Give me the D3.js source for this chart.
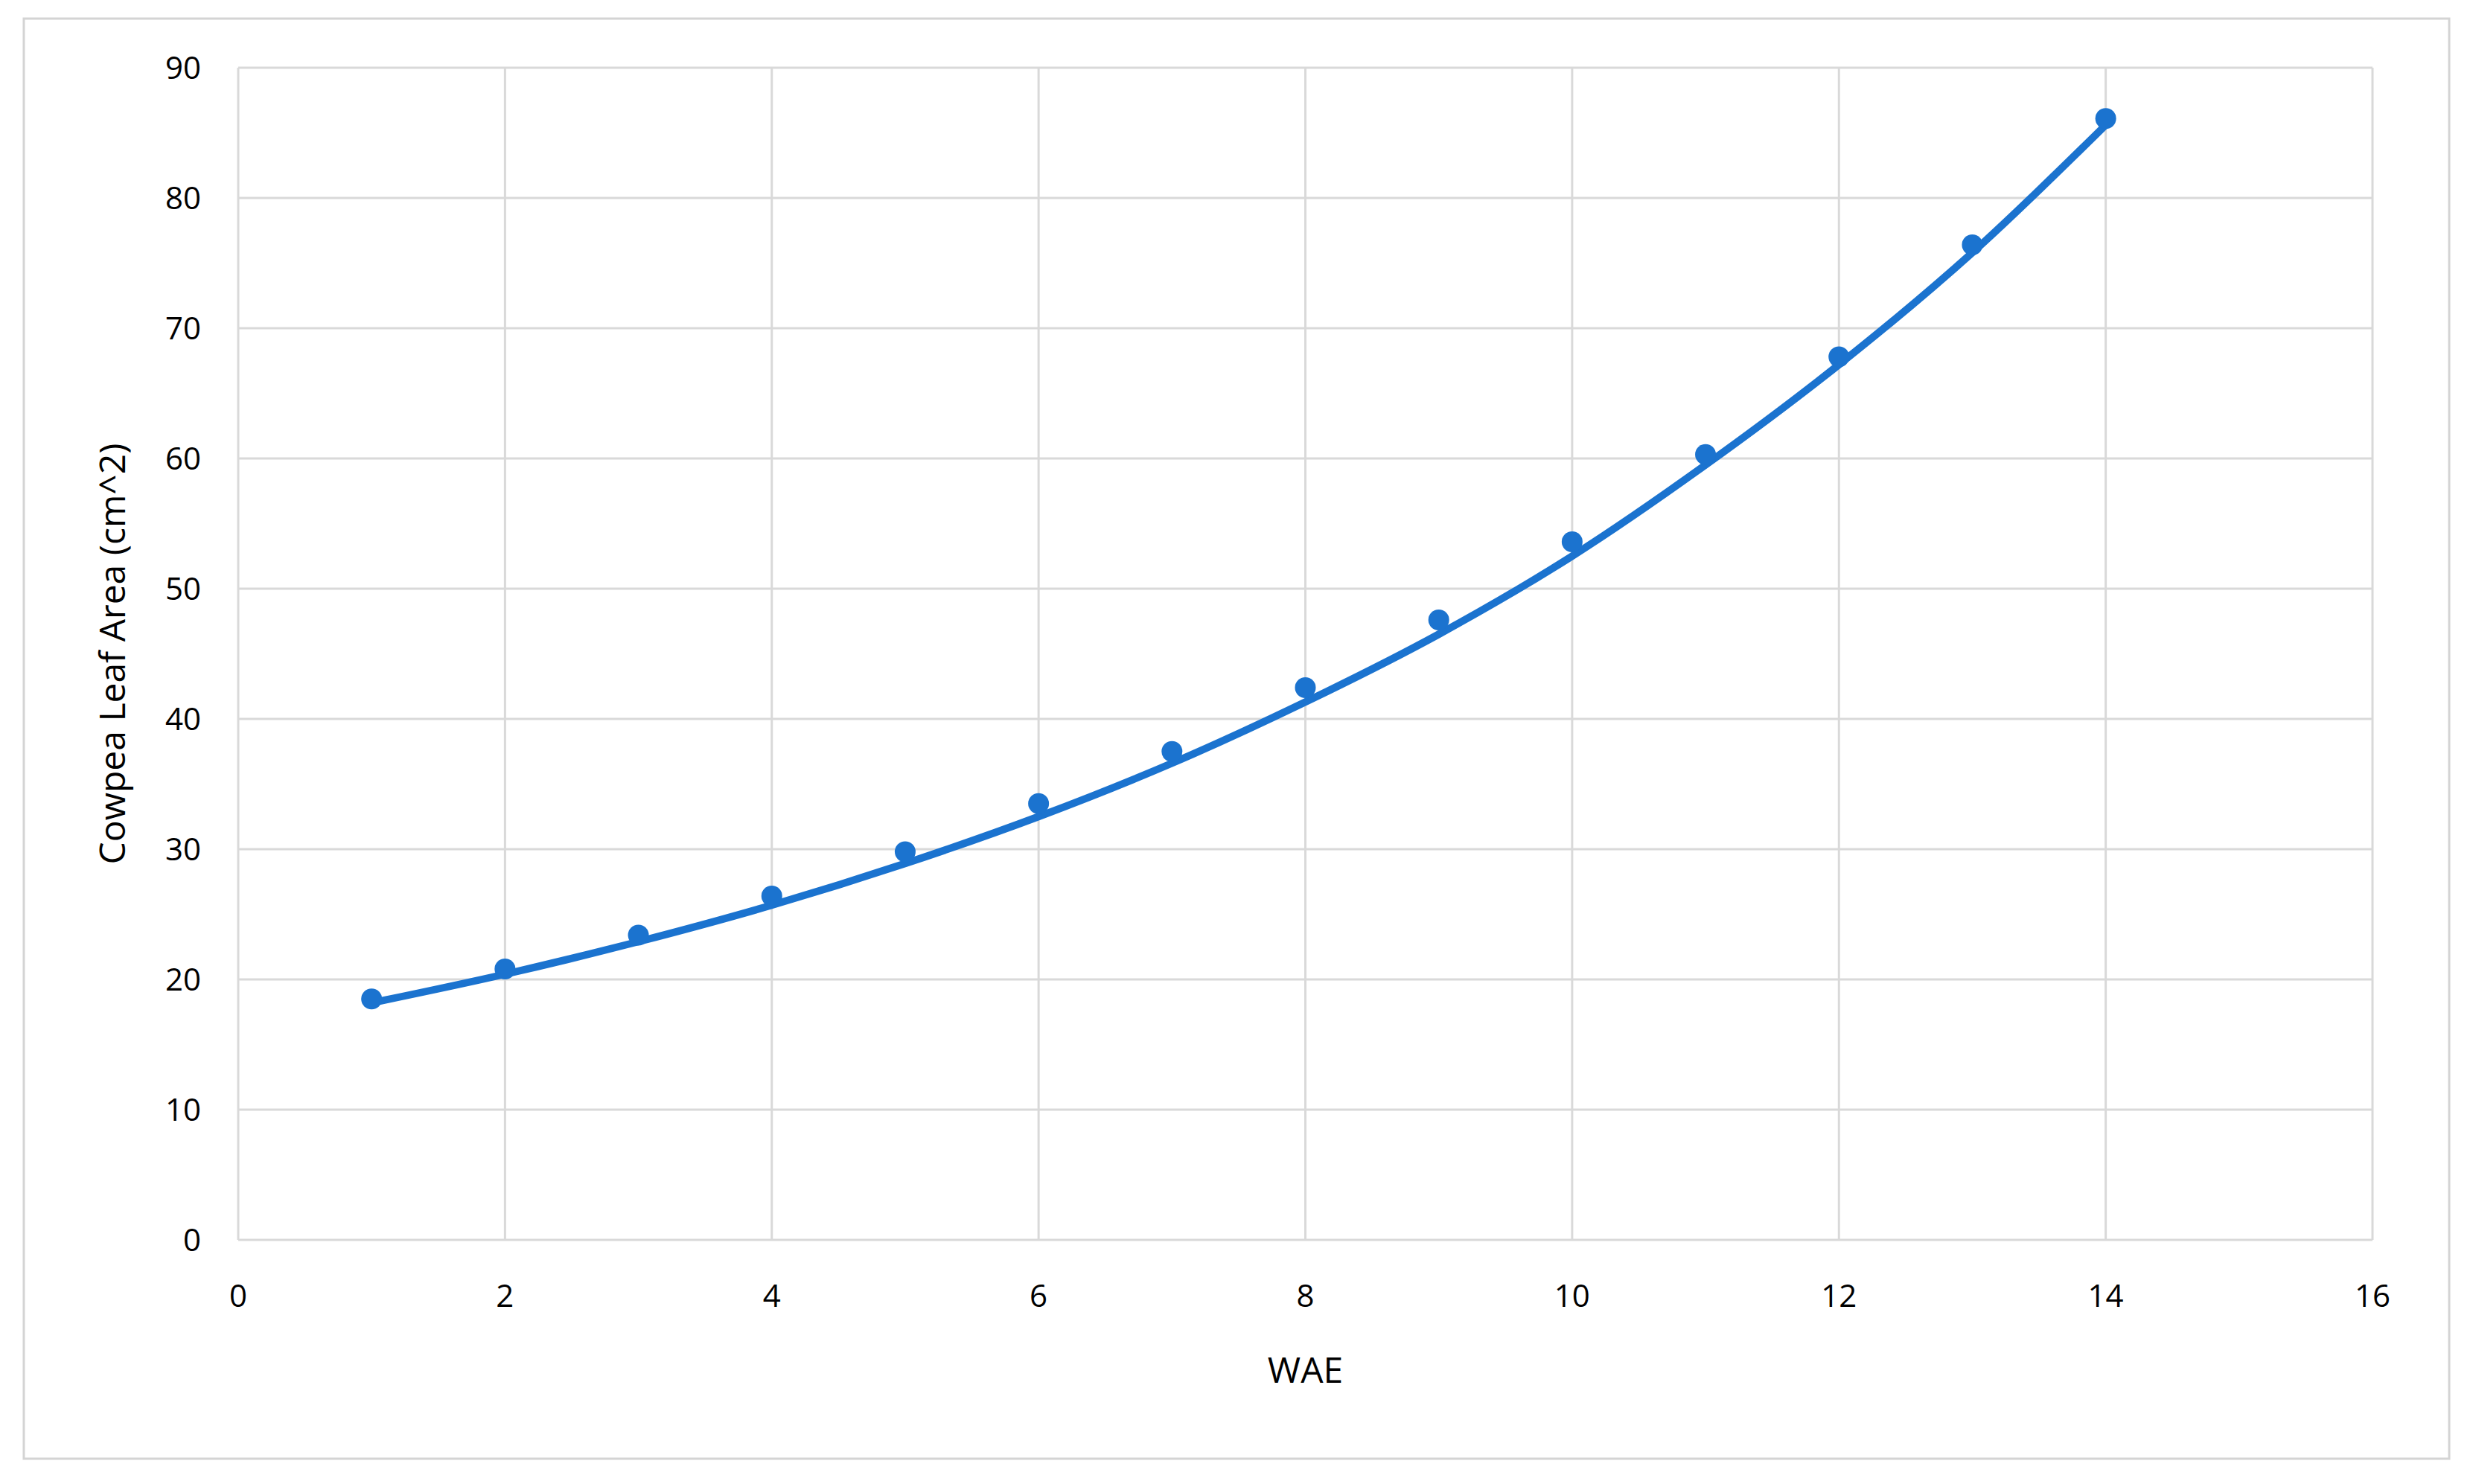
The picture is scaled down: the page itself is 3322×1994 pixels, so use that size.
<!DOCTYPE html>
<html>
<head>
<meta charset="utf-8">
<script src="https://cdn.jsdelivr.net/npm/d3@7"></script>
<style>
  body { margin: 0; background: #fff; }
  text { font-family: "Open Sans", sans-serif; fill: #000; }
</style>
</head>
<body>
<div id="chart"></div>
<script>
const wae = [1, 2, 3, 4, 5, 6, 7, 8, 9, 10, 11, 12, 13, 14];
const leafArea = [18.5, 20.8, 23.4, 26.4, 29.8, 33.5, 37.5, 42.4, 47.6, 53.6, 60.3, 67.8, 76.4, 86.1];
const trend = [18.2, 20.4, 22.9, 25.7, 28.9, 32.5, 36.6, 41.3, 46.5, 52.5, 59.5, 67.2, 75.8, 85.6];
const xTicks = [0, 2, 4, 6, 8, 10, 12, 14, 16];
const yTicks = [0, 10, 20, 30, 40, 50, 60, 70, 80, 90];

const W = 3322, H = 1994;
const margin = {top: 91, right: 135, bottom: 328, left: 320};
const blue = "#1b73cf";

const svg = d3.select("#chart").append("svg")
  .attr("width", W).attr("height", H);

svg.append("rect")
  .attr("x", 32).attr("y", 25).attr("width", 3258).attr("height", 1935)
  .attr("fill", "#fff").attr("stroke", "#d4d4d4").attr("stroke-width", 3);

const xScale = d3.scaleLinear().domain([0, 16]).range([margin.left, W - margin.right]);
const yScale = d3.scaleLinear().domain([0, 90]).range([H - margin.bottom, margin.top]);

const g = svg.append("g");

g.selectAll(".vgrid").data(xTicks).enter().append("line")
  .attr("x1", d => xScale(d)).attr("x2", d => xScale(d))
  .attr("y1", yScale(0)).attr("y2", yScale(90))
  .attr("stroke", "#d9d9d9").attr("stroke-width", 3);

g.selectAll(".hgrid").data(yTicks).enter().append("line")
  .attr("x1", xScale(0)).attr("x2", xScale(16))
  .attr("y1", d => yScale(d)).attr("y2", d => yScale(d))
  .attr("stroke", "#d9d9d9").attr("stroke-width", 3);

g.selectAll(".xt").data(xTicks).enter().append("text")
  .attr("x", d => xScale(d)).attr("y", yScale(0) + 90)
  .attr("text-anchor", "middle").attr("font-size", 42)
  .text(d => d);

g.selectAll(".yt").data(yTicks).enter().append("text")
  .attr("x", xScale(0) - 50).attr("y", d => yScale(d) + 15)
  .attr("text-anchor", "end").attr("font-size", 42)
  .text(d => d);

svg.append("text")
  .attr("x", (xScale(0) + xScale(16)) / 2).attr("y", yScale(0) + 192)
  .attr("text-anchor", "middle").attr("font-size", 48)
  .text("WAE");

svg.append("text")
  .attr("transform", `translate(168, ${(yScale(0) + yScale(90)) / 2}) rotate(-90)`)
  .attr("text-anchor", "middle").attr("font-size", 48)
  .text("Cowpea Leaf Area (cm^2)");

const line = d3.line()
  .x((d, i) => xScale(wae[i]))
  .y(d => yScale(d))
  .curve(d3.curveMonotoneX);

svg.append("path")
  .attr("d", line(trend))
  .attr("fill", "none").attr("stroke", blue).attr("stroke-width", 10)
  .attr("stroke-linecap", "round");

svg.selectAll(".pt").data(leafArea).enter().append("circle")
  .attr("cx", (d, i) => xScale(wae[i])).attr("cy", d => yScale(d))
  .attr("r", 14).attr("fill", blue);
</script>
</body>
</html>
